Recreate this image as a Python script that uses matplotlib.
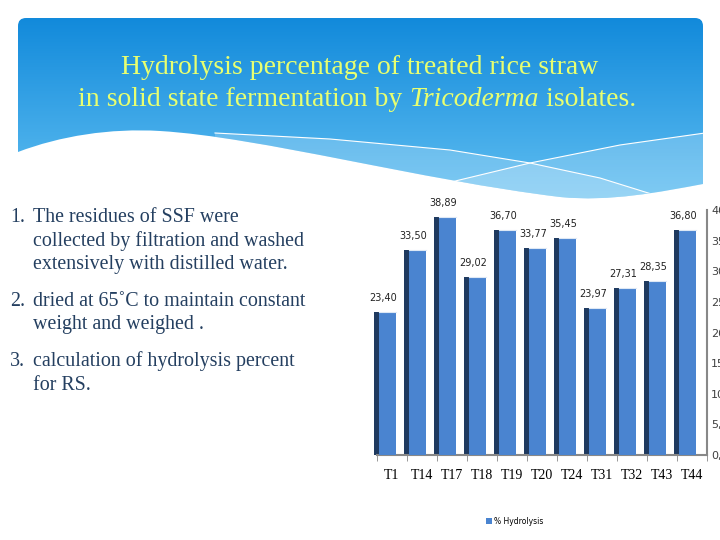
"""Slide: hydrolysis percentage of treated rice straw (3D-style bar chart)."""
import matplotlib
matplotlib.use("Agg")
import matplotlib.pyplot as plt
from matplotlib.path import Path
from matplotlib.patches import PathPatch
import numpy as np

categories = ["T1", "T14", "T17", "T18", "T19", "T20", "T24", "T31", "T32", "T43", "T44"]
hydrolysis = [23.40, 33.50, 38.89, 29.02, 36.70, 33.77, 35.45, 23.97, 27.31, 28.35, 36.80]
y_ticks = [0, 5, 10, 15, 20, 25, 30, 35, 40]

title_1 = "Hydrolysis percentage of treated rice straw"
title_2a = "in solid state fermentation by "
title_2b = "Tricoderma"
title_2c = " isolates."

steps = [
    ("1.", ["The residues of SSF were", "collected by filtration and washed",
            "extensively with distilled water."]),
    ("2.", ["dried at 65\u02daC to maintain constant", "weight and weighed ."]),
    ("3.", ["calculation of hydrolysis percent", "for RS."]),
]

SERIF = ["Liberation Serif", "DejaVu Serif"]
TXT = "#243F60"
FRONT = "#4A84D0"
SIDE = "#1F3A5F"
TITLE_C = "#E8FF70"

fig = plt.figure(figsize=(7.2, 5.4), dpi=100, facecolor="white")

# ---- slide background (pixel coords, y down) ----
bg = fig.add_axes([0, 0, 1, 1], zorder=0)
bg.set_xlim(0, 720)
bg.set_ylim(540, 0)
bg.axis("off")

r = 8
verts = [(18, 152), (18, 18 + r), (18, 18), (18 + r, 18), (703 - r, 18), (703, 18),
         (703, 18 + r), (703, 184),
         (660, 192), (610, 202), (560, 197),
         (420, 180), (260, 137), (160, 131),
         (110, 128), (60, 136), (18, 152), (18, 152)]
codes = [Path.MOVETO, Path.LINETO, Path.CURVE3, Path.CURVE3, Path.LINETO, Path.CURVE3,
         Path.CURVE3, Path.LINETO,
         Path.CURVE4, Path.CURVE4, Path.CURVE4,
         Path.CURVE4, Path.CURVE4, Path.CURVE4,
         Path.CURVE4, Path.CURVE4, Path.CURVE4, Path.CLOSEPOLY]
region = PathPatch(Path(verts, codes), facecolor="none", edgecolor="none")
bg.add_patch(region)

grad = np.linspace(0, 1, 256)[:, None]
c_top = np.array([0x12, 0x8A, 0xDB]) / 255
c_bot = np.array([0x62, 0xC0, 0xF2]) / 255
img = (c_top + (c_bot - c_top) * grad)[:, None, :]
im = bg.imshow(img, extent=[18, 703, 205, 18], aspect="auto", zorder=1)
im.set_clip_path(region)

# light translucent bands below two thin white curves
line1 = [(215, 133), (330, 139), (450, 150), (530, 163), (600, 178), (645, 192), (720, 215)]
line2 = [(380, 205), (447, 183), (530, 163), (620, 145), (705, 133)]
for pts in (line1, line2):
    poly = pts + [(pts[-1][0], 260), (pts[0][0], 260)]
    band = bg.fill([p[0] for p in poly], [p[1] for p in poly],
                   color="white", alpha=0.2, lw=0, zorder=2)[0]
    band.set_clip_path(region)
    ln, = bg.plot([p[0] for p in pts], [p[1] for p in pts], color="white", lw=0.8, zorder=3)
    ln.set_clip_path(region)

# ---- title ----
bg.text(360, 67, title_1, ha="center", va="center", fontsize=20,
        family=SERIF, color=TITLE_C, zorder=5)
t2 = bg.text(78, 99, title_2a, ha="left", va="center", fontsize=20,
             family=SERIF, color=TITLE_C, zorder=5)
t3 = bg.annotate(title_2b, xycoords=t2, xy=(1, 0), va="bottom", fontsize=20,
                 family=SERIF, style="italic", color=TITLE_C, zorder=5)
bg.annotate(title_2c, xycoords=t3, xy=(1, 0), va="bottom", fontsize=20,
            family=SERIF, color=TITLE_C, zorder=5)

# ---- left text ----
y = 217
for num, lines in steps:
    bg.text(10, y, num, ha="left", va="center", fontsize=14.4, family=SERIF, color=TXT)
    for ln_txt in lines:
        bg.text(33, y, ln_txt, ha="left", va="center", fontsize=14.4, family=SERIF, color=TXT)
        y += 24
    y += 12

# ---- chart ----
ax = fig.add_axes([377 / 720, 85 / 540, 330 / 720, 245 / 540], zorder=2)
ax.patch.set_alpha(0)
x = np.arange(len(categories))
ax.bar(x - 0.525, hydrolysis, width=0.15, color=SIDE, clip_on=False, zorder=2)
front = ax.bar(x - 0.165, hydrolysis, width=0.57, color=FRONT, clip_on=False, zorder=3)
for xi, v in zip(x, hydrolysis):
    ax.plot([xi - 0.45, xi + 0.12], [v, v], color="#DDE8F5", lw=0.8, zorder=4, clip_on=False)
    ax.annotate(f"{v:.2f}".replace(".", ","), xy=(xi - 0.3, v), xytext=(0, 14),
                textcoords="offset pixels", ha="center", va="center",
                fontsize=7, color="#222222", family="DejaVu Sans")

ax.set_xlim(-0.5, len(categories) - 0.5)
ax.set_ylim(0, 40)
ax.set_xticks(x)
ax.set_xticklabels(categories, family=SERIF, fontsize=10)
ax.set_xticks(np.arange(-0.5, len(categories)), minor=True)
ax.tick_params(axis="x", which="major", length=0, pad=10)
ax.tick_params(axis="x", which="minor", length=4, color="#888888", direction="out")
ax.yaxis.tick_right()
ax.set_yticks(y_ticks)
ax.set_yticklabels([f"{t:.2f}".replace(".", ",") for t in y_ticks],
                   fontsize=8, color="#404040")
ax.tick_params(axis="y", length=0, pad=3)
for s in ("top", "left"):
    ax.spines[s].set_visible(False)
for s in ("bottom", "right"):
    ax.spines[s].set_color("#888888")
    ax.spines[s].set_linewidth(1.5)

fig.legend(handles=[front], labels=["% Hydrolysis"], loc="center",
           bbox_to_anchor=(515 / 720, 1 - 521 / 540), frameon=False,
           fontsize=5.5, handlelength=0.7, handleheight=0.7, handletextpad=0.3)

fig.savefig("out.png", dpi=100)
